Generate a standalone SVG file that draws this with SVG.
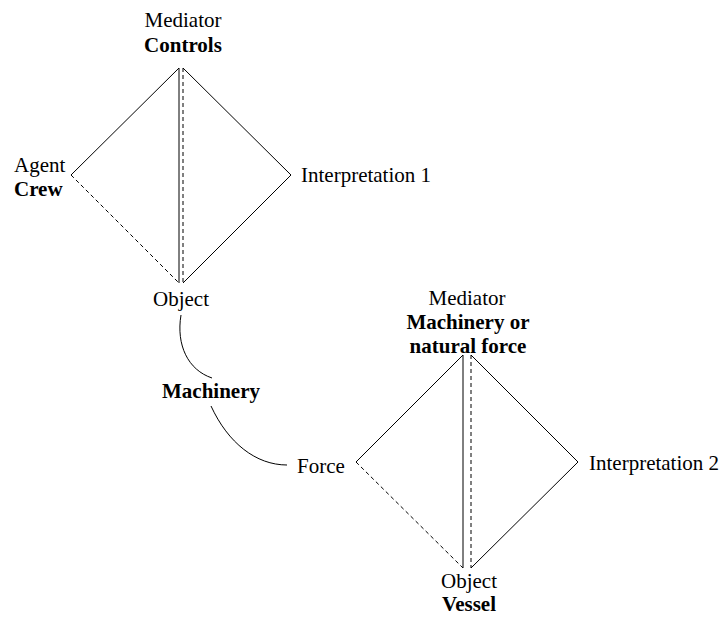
<svg xmlns="http://www.w3.org/2000/svg" width="727" height="617" viewBox="0 0 727 617">
  <style>
    text { font-family: "Liberation Serif", "Times New Roman", serif; font-size: 21px; fill: #000; }
    .b { font-weight: bold; }
    .m { text-anchor: middle; }
    .solid { fill: none; stroke: #000; stroke-width: 1; }
    .dash { fill: none; stroke: #000; stroke-width: 1; stroke-dasharray: 4 3; }
  </style>
  <rect width="727" height="617" fill="#fff"/>

  <!-- upper triangle pair: Crew / Controls / Object -->
  <g id="mediator1">
    <text class="m" x="183" y="27">Mediator</text>
    <text class="m b" x="183" y="52">Controls</text>
  </g>
  <g id="agent">
    <text x="14" y="172">Agent</text>
    <text class="b" x="14" y="196">Crew</text>
  </g>
  <g id="interp1">
    <text x="301" y="182">Interpretation 1</text>
  </g>
  <g id="object1">
    <text class="m" x="181" y="306">Object</text>
  </g>
  <g id="machinery">
    <text class="m b" x="211" y="398">Machinery</text>
  </g>

  <!-- lower triangle pair: Force / Machinery or natural force / Vessel -->
  <g id="force">
    <text x="297" y="473">Force</text>
  </g>
  <g id="mediator2">
    <text class="m" x="467" y="305">Mediator</text>
    <text class="m b" x="468" y="329">Machinery or</text>
    <text class="m b" x="468" y="353">natural force</text>
  </g>
  <g id="interp2">
    <text x="589" y="470">Interpretation 2</text>
  </g>
  <g id="object2">
    <text class="m" x="469" y="588">Object</text>
    <text class="m b" x="469" y="611">Vessel</text>
  </g>

  <g id="connectors">
    <!-- upper diamond -->
    <path class="solid" d="M179,68 L71,175"/>
    <path class="dash" d="M71,175 L179,283"/>
    <path class="solid" d="M179,68 L179,283"/>
    <path class="dash" d="M183,68 L183,283"/>
    <path class="solid" d="M183,68 L291,175 L183,283"/>

    <!-- links through Machinery -->
    <path class="solid" d="M181,315 C176,345 188,370 212,378"/>
    <path class="solid" d="M211,406 C228,443 256,465 287,465"/>

    <!-- lower diamond -->
    <path class="solid" d="M463,355 L356,462"/>
    <path class="dash" d="M356,462 L463,568"/>
    <path class="solid" d="M463,355 L463,568"/>
    <path class="dash" d="M471,355 L471,568"/>
    <path class="solid" d="M471,355 L578,462 L471,568"/>
  </g>
</svg>
